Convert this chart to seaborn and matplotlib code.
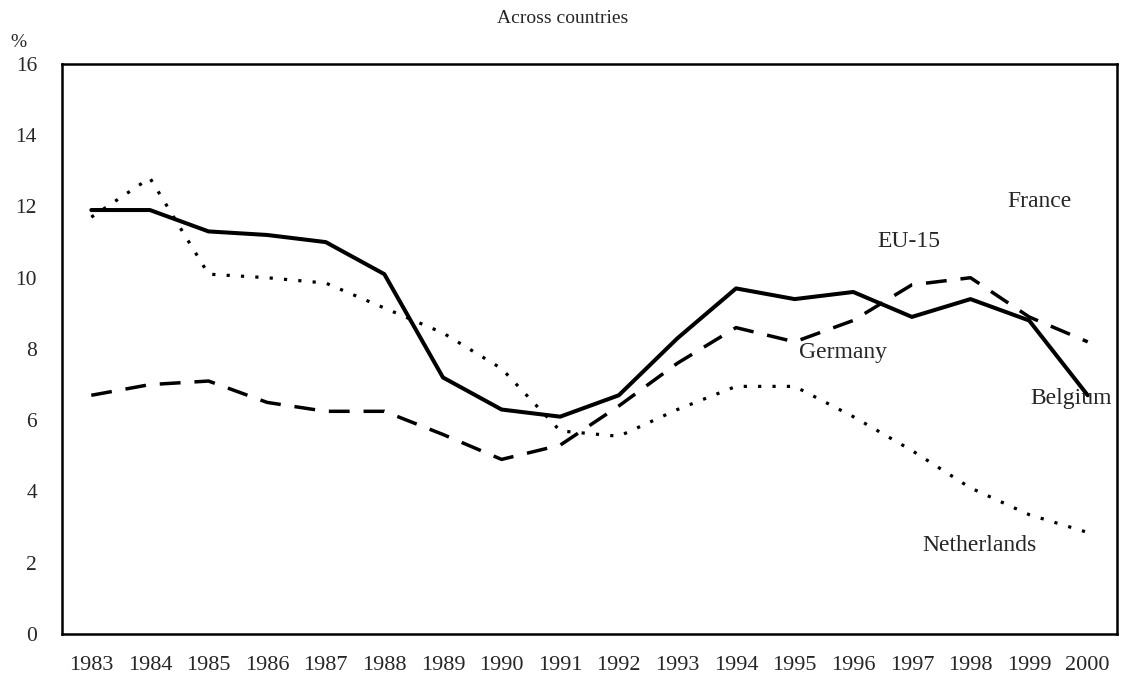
import numpy as np
import pandas as pd
import matplotlib
matplotlib.use("Agg")
import matplotlib.pyplot as plt
import seaborn as sns

sns.set_style("white")
plt.rcParams['font.family'] = ['Liberation Serif', 'DejaVu Serif']

# Data (%)
years = list(range(1983, 2001))
belgium = [11.9, 11.9, 11.3, 11.2, 11.0, 10.1, 7.2, 6.3, 6.1, 6.7, 8.3, 9.7, 9.4, 9.6, 8.9, 9.4, 8.8, 6.7]
germany = [6.7, 7.0, 7.1, 6.5, 6.25, 6.25, 5.6, 4.9, 5.3, 6.4, 7.6, 8.6, 8.2, 8.8, 9.8, 10.0, 8.9, 8.2]
netherlands = [11.7, 12.8, 10.1, 10.0, 9.85, 9.15, 8.45, 7.45, 5.7, 5.55, 6.3, 6.95, 6.95, 6.1, 5.15, 4.1, 3.35, 2.85]

label_names = ["France", "EU-15", "Germany", "Belgium", "Netherlands"]
label_x = [2000 - 0.83, 1997 - 0.05, 1996 - 0.17, 2000 - 0.28, 1999 - 0.85]
label_y = [12.15, 11.03, 7.9, 6.6, 2.47]

df = pd.DataFrame({"year": years, "Belgium": belgium,
                   "Germany": germany, "Netherlands": netherlands})

fig = plt.figure(figsize=(11.25, 6.85), dpi=100)
ax = fig.add_axes([0.0551, 0.0745, 0.9378, 0.8321])

sns.lineplot(data=df, x="year", y="Netherlands", ax=ax, color="black",
             linewidth=2.3, linestyle=(0, (1, 3.5)))
sns.lineplot(data=df, x="year", y="Germany", ax=ax, color="black",
             linewidth=2.5, linestyle=(0, (6, 4)))
sns.lineplot(data=df, x="year", y="Belgium", ax=ax, color="black",
             linewidth=2.9)

for name, lx, ly in zip(label_names, label_x, label_y):
    ax.text(lx, ly, name, ha="center", va="center", fontsize=17)

ax.set_xlim(1982.5, 2000.5)
ax.set_ylim(0, 16)
ax.set_xticks(years)
ax.set_xticklabels([str(y) for y in years], fontsize=16)
ax.set_xticks(np.arange(1983.5, 2000, 1), minor=True)
ax.tick_params(axis="x", which="major", length=0, pad=16)
ax.tick_params(axis="x", which="minor", direction="in", length=6, width=1.2, color="black")
ax.set_yticks(range(0, 17, 2))
ax.set_yticklabels([str(v) for v in range(0, 17, 2)], fontsize=15.5)
ax.tick_params(axis="y", direction="in", length=5, width=1.2, color="black", pad=18)
ax.set_xlabel("")
ax.set_ylabel("")

for sp in ax.spines.values():
    sp.set_color("black")
    sp.set_linewidth(1.8)

fig.text(0.5, 0.973, "Across countries", ha="center", va="center", fontsize=14)
fig.text(0.016, 0.938, "%", ha="center", va="center", fontsize=14)

fig.savefig("out.png", dpi=100)
